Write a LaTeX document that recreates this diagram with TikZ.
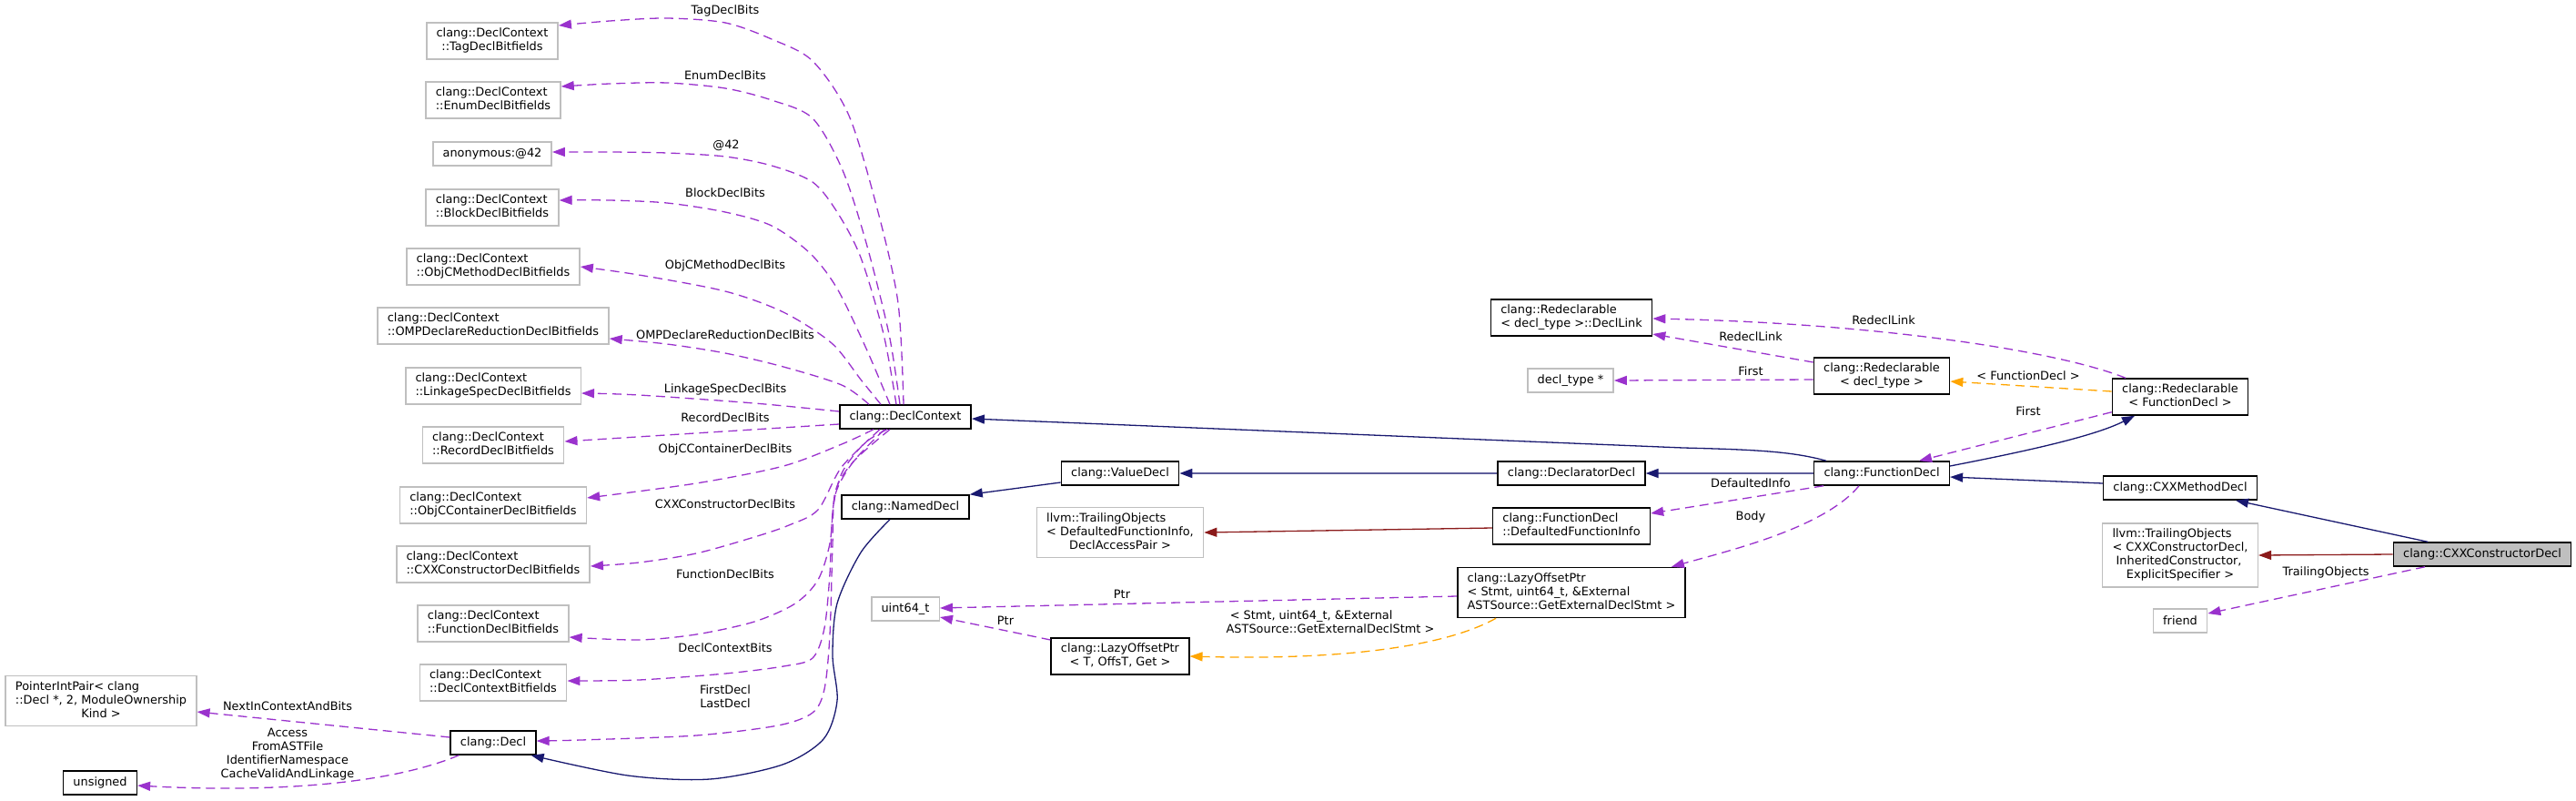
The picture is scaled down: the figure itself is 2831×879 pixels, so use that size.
\documentclass[tikz,border=0pt]{standalone}
\usepackage{fontspec}
\setmainfont{DejaVu Sans}
\usetikzlibrary{arrows.meta}

\definecolor{inhblue}{HTML}{191970}
\definecolor{usepurple}{HTML}{9A32CD}
\definecolor{tmplorange}{HTML}{FFA500}
\definecolor{privred}{HTML}{8B1A1A}
\definecolor{undoc}{HTML}{BFBFBF}

% first lines left, last line centred
\newcommand{\dlines}[2]{\begin{tabular}{@{}l@{}}#1\\\multicolumn{1}{@{}c@{}}{#2}\end{tabular}}

\begin{document}
\begin{tikzpicture}[
  x=0.5pt, y=-0.5pt,
  font=\fontsize{6.45}{7.5}\selectfont,
  >={Triangle[length=7pt,width=5pt]},
  cls/.style={
    draw=black, line width=0.75pt, fill=white,
    inner xsep=5.4pt, inner ysep=2.5pt, minimum height=13pt
  },
  ext/.style={cls, draw=undoc},
  focus/.style={cls, fill=undoc},
  inh/.style={->, draw=inhblue, line width=0.65pt},
  inhlight/.style={-{Triangle[length=7pt,width=5pt,color=inhblue]}, draw=inhblue!70, line width=0.9pt},
  priv/.style={inh, draw=privred},
  usage/.style={->, draw=usepurple, line width=0.65pt, dash pattern=on 5pt off 3pt},
  tmpl/.style={usage, draw=tmplorange},
  lab/.style={inner sep=0pt, align=center}
]
  \useasboundingbox (0,0) rectangle (2831,879);

  % bitfield structs
  \node[ext] (bTag) at (541,45) {\dlines{clang::DeclContext}{::TagDeclBitfields}};
  \node[ext] (bEnum) at (542,110) {\dlines{clang::DeclContext}{::EnumDeclBitfields}};
  \node[ext] (bAnon) at (541,169) {anonymous:@42};
  \node[ext] (bBlock) at (541,228) {\dlines{clang::DeclContext}{::BlockDeclBitfields}};
  \node[ext] (bObjCM) at (542,293) {\dlines{clang::DeclContext}{::ObjCMethodDeclBitfields}};
  \node[ext] (bOMP) at (542,358) {\dlines{clang::DeclContext}{::OMPDeclareReductionDeclBitfields}};
  \node[ext] (bLink) at (542,424) {\dlines{clang::DeclContext}{::LinkageSpecDeclBitfields}};
  \node[ext] (bRecord) at (542,489) {\dlines{clang::DeclContext}{::RecordDeclBitfields}};
  \node[ext] (bObjCC) at (542,555) {\dlines{clang::DeclContext}{::ObjCContainerDeclBitfields}};
  \node[ext] (bCtor) at (542,620) {\dlines{clang::DeclContext}{::CXXConstructorDeclBitfields}};
  \node[ext] (bFunc) at (542,685) {\dlines{clang::DeclContext}{::FunctionDeclBitfields}};
  \node[ext] (bDC) at (542,750) {\dlines{clang::DeclContext}{::DeclContextBitfields}};

  \node[ext] (PIP) at (111,770) {\dlines{PointerIntPair< clang\\::Decl *, 2, ModuleOwnership}{Kind >}};
  \node[cls] (Uns) at (110,860) {unsigned};
  \node[cls] (Decl) at (542,816) {clang::Decl};

  \node[cls] (DC) at (995,458) {clang::DeclContext};
  \node[cls] (Named) at (995,557) {clang::NamedDecl};
  \node[ext] (U64) at (995,669) {uint64\_t};

  \node[cls] (Value) at (1231,520) {clang::ValueDecl};
  \node[ext] (TrailA) at (1231,585) {\dlines{llvm::TrailingObjects\\< DefaultedFunctionInfo,}{DeclAccessPair >}};
  \node[cls] (LazyT) at (1231,721) {\dlines{clang::LazyOffsetPtr}{< T, OffsT, Get >}};

  \node[cls] (DLink) at (1727,349) {\dlines{clang::Redeclarable}{< decl\_type >::DeclLink}};
  \node[ext] (DType) at (1726,418) {decl\_type *};
  \node[cls] (Declr) at (1727,520) {clang::DeclaratorDecl};
  \node[cls] (DFI) at (1727,578) {\dlines{clang::FunctionDecl}{::DefaultedFunctionInfo}};
  \node[cls] (LazyS) at (1727,651) {\dlines{clang::LazyOffsetPtr\\< Stmt, uint64\_t, \&External}{ASTSource::GetExternalDeclStmt >}};

  \node[cls] (RDT) at (2068,413) {\dlines{clang::Redeclarable}{< decl\_type >}};
  \node[cls] (FD) at (2068,520) {clang::FunctionDecl};

  \node[cls] (RFD) at (2396,436) {\dlines{clang::Redeclarable}{< FunctionDecl >}};
  \node[cls] (Method) at (2396,536) {clang::CXXMethodDecl};
  \node[ext] (TrailB) at (2396,610) {\dlines{llvm::TrailingObjects\\< CXXConstructorDecl,\\\ InheritedConstructor,}{ExplicitSpecifier >}};
  \node[ext] (Friend) at (2396,682) {friend};
  \node[focus] (Ctor) at (2728,609) {clang::CXXConstructorDecl};

  % DeclContext members
  \draw[usage] plot[smooth] coordinates {([xshift=-1pt]DC.north) (987,333) (965,233) (933,127) (893,67) (848,43) (797,25) (733,20) (670,23) ([yshift=8.5pt]bTag.east)};
  \draw[usage] plot[smooth] coordinates {([xshift=-3pt]DC.north) (977,367) (952,267) (926,187) (893,130) (848,110) (797,97) (733,91) (670,92) ([yshift=7.5pt]bEnum.east)};
  \draw[usage] plot[smooth] coordinates {([xshift=-5pt]DC.north) (971,367) (946,283) (920,233) (893,200) (848,182) (797,172) (733,168) (670,167) ([yshift=1pt]bAnon.east)};
  \draw[usage] plot[smooth] coordinates {([xshift=-8.5pt]DC.north) (952,383) (920,317) (890,278) (848,248) (797,233) (733,223) (670,220) ([yshift=4pt]bBlock.east)};
  \draw[usage] plot[smooth] coordinates {([xshift=-13.5pt]DC.north) (946,417) (914,377) (861,343) (797,320) (702,302) (bObjCM.east)};
  \draw[usage] plot[smooth] coordinates {([xshift=-20pt]DC.north) (925,423) (861,403) (797,388) (733,378) ([yshift=-7pt]bOMP.east)};
  \draw[usage] plot[smooth] coordinates {([yshift=3pt]DC.west) (829,443) (702,434) ([yshift=-4pt]bLink.east)};
  \draw[usage] ([yshift=-4pt]DC.west) -- ([yshift=2pt]bRecord.east);
  \draw[usage] plot[smooth] coordinates {([xshift=-17.5pt]DC.south) (925,488) (861,512) (765,531) ([yshift=4pt]bObjCC.east)};
  \draw[usage] plot[smooth] coordinates {([xshift=-14pt]DC.south) (925,513) (899,560) (867,577) (829,590) (765,608) (702,618) ([yshift=-1pt]bCtor.east)};
  \draw[usage] plot[smooth] coordinates {([xshift=-11.5pt]DC.south) (938,507) (918,543) (912,597) (899,637) (874,663) (829,683) (765,697) (702,703) ([yshift=-7.5pt]bFunc.east)};
  \draw[usage] plot[smooth] coordinates {([xshift=-10pt]DC.south) (950,487) (925,520) (915,563) (912,630) (906,690) (893,723) (861,732) (797,740) (702,747) ([yshift=1pt]bDC.east)};
  \draw[usage] plot[smooth] coordinates {([xshift=-8.5pt]DC.south) (938,507) (918,540) (915,597) (912,697) (906,757) (893,783) (855,797) (765,808) (638,813) ([yshift=1pt]Decl.east)};

  \node[lab] (lTag) at (797,12) {TagDeclBits};
  \node[lab] (lEnum) at (797,83) {EnumDeclBits};
  \node[lab] (lAnon) at (798,160) {@42};
  \node[lab] (lBlock) at (797,212) {BlockDeclBits};
  \node[lab] (lObjCM) at (797,292) {ObjCMethodDeclBits};
  \node[lab] (lOMP) at (797,368) {OMPDeclareReductionDeclBits};
  \node[lab] (lLink) at (797,428) {LinkageSpecDeclBits};
  \node[lab] (lRecord) at (797,459) {RecordDeclBits};
  \node[lab] (lObjCC) at (797,494) {ObjCContainerDeclBits};
  \node[lab] (lCtor) at (797,554) {CXXConstructorDeclBits};
  \node[lab] (lFunc) at (797,631) {FunctionDeclBits};
  \node[lab] (lDC) at (797,712) {DeclContextBits};
  \node[lab] (lFirstDecl) at (797,765) {FirstDecl\\LastDecl};

  % Decl
  \draw[usage] ([yshift=3pt]Decl.west) -- ([yshift=-6pt]PIP.east);
  \draw[usage] ([xshift=5pt]Decl.south west) .. controls (420,865) and (280,870) .. ([yshift=-1.5pt]Uns.east);
  \node[lab] (lNext) at (316,776) {NextInContextAndBits};
  \node[lab] (lAccess) at (316,829) {Access\\FromASTFile\\IdentifierNamespace\\CacheValidAndLinkage};

  % inheritance chain
  \draw[inh] plot[smooth] coordinates {([xshift=-8.5pt]Named.south) (946,607) (920,663) (915,720) (920,770) (905,812) (860,840) (780,856) (690,852) ([xshift=-3pt]Decl.south east)};
  \draw[inh] ([yshift=-5pt]Value.west) -- (Named.north east);
  \draw[inhlight] (Declr.west) -- (Value.east);
  \draw[inhlight] (FD.west) -- (Declr.east);
  \draw[inh] ([xshift=-30.5pt]FD.north) .. controls (1970,496) and (1930,494) .. (1850,492) -- ([yshift=-1pt]DC.east);
  \draw[inh] ([yshift=4pt]FD.east) .. controls (2220,497) and (2300,480) .. ([xshift=-25pt]RFD.south);
  \draw[inh] ([yshift=2.5pt]Method.west) -- ([yshift=-2pt]FD.east);
  \draw[inh] ([xshift=-30pt]Ctor.north) -- ([xshift=30.5pt]Method.south);
  \draw[priv] (Ctor.west) -- (TrailB.east);
  \draw[priv] ([yshift=-1pt]DFI.west) -- (TrailA.east);

  % FunctionDecl members
  \draw[usage] ([yshift=2pt]RFD.south west) -- ([xshift=20.5pt]FD.north);
  \draw[usage] ([xshift=-32pt]FD.south) -- ([yshift=7pt]DFI.east);
  \draw[usage] ([xshift=-12.5pt]FD.south) .. controls (2005,580) and (1900,605) .. ([xshift=-8pt]LazyS.north east);
  \draw[usage] ([xshift=-31.5pt]Ctor.south) -- ([yshift=4pt]Friend.east);
  \node[lab] (lFirstB) at (2229,452) {First};
  \node[lab] (lDefInfo) at (1924,531) {DefaultedInfo};
  \node[lab] (lBody) at (1924,568) {Body};
  \node[lab] (lTrail) at (2556,629) {TrailingObjects};

  % Redeclarable
  \draw[tmpl] ([yshift=3pt]RFD.west) -- ([yshift=-3pt]RDT.east);
  \draw[usage] ([yshift=7.5pt]RDT.west) -- ([yshift=-9pt]DLink.east);
  \draw[usage] ([xshift=-30pt]RFD.north) .. controls (2260,385) and (2060,355) .. ([yshift=-0.5pt]DLink.east);
  \draw[usage] ([yshift=-2pt]RDT.west) -- (DType.east);
  \node[lab] (lRedeclA) at (2070,352) {RedeclLink};
  \node[lab] (lRedeclB) at (1924,370) {RedeclLink};
  \node[lab] (lFirstA) at (1924,408) {First};
  \node[lab] (lFD) at (2229,413) {< FunctionDecl >};

  % LazyOffsetPtr
  \draw[usage] ([yshift=-2pt]LazyS.west) -- ([yshift=0.5pt]U64.east);
  \draw[usage] ([yshift=9pt]LazyT.west) -- ([yshift=-4.5pt]U64.east);
  \draw[tmpl] ([xshift=-41.5pt]LazyS.south) .. controls (1580,715) and (1450,725) .. (LazyT.east);
  \node[lab] (lPtrA) at (1233,653) {Ptr};
  \node[lab] (lPtrB) at (1105,682) {Ptr};
  \node[lab] (lGet) at (1462,685) {\dlines{\ < Stmt, uint64\_t, \&External}{ASTSource::GetExternalDeclStmt >}};
\end{tikzpicture}
\end{document}
